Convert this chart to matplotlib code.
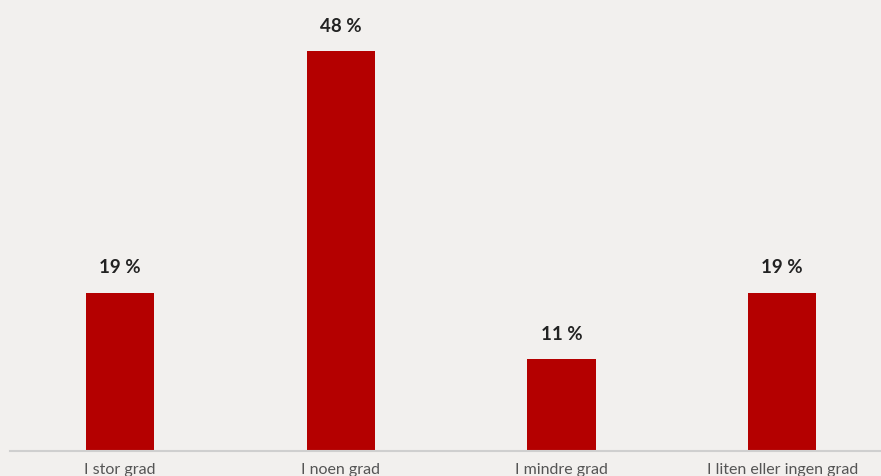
import matplotlib
matplotlib.use("Agg")
import matplotlib.pyplot as plt

categories = ["I stor grad", "I noen grad", "I mindre grad", "I liten eller ingen grad"]
values = [19, 48, 11, 19]
labels = ["19 %", "48 %", "11 %", "19 %"]

bg = "#f2f0ee"
fig = plt.figure(figsize=(8.81, 4.77), dpi=100, facecolor=bg)
ax = fig.add_axes([9.7 / 881, 25 / 477, 882.8 / 881, 420 / 477], facecolor=bg)

x = range(len(categories))
ax.bar(x, values, width=0.31, color="#b40000", zorder=2)
for xi, v, lab in zip(x, values, labels):
    ax.annotate(lab, (xi, v), xytext=(0, 26), textcoords="offset pixels",
                ha="center", va="center", fontsize=13.5, fontweight="bold",
                color="#222222", family=["Lato", "DejaVu Sans"])

ax.set_xlim(-0.5, 3.5)
ax.set_ylim(0, 50.4)
ax.set_xticks(list(x))
ax.set_xticklabels(categories, fontsize=11.5, color="#555555", family=["Lato", "DejaVu Sans"])
ax.tick_params(axis="x", length=0, pad=8)
ax.set_yticks([])
for s in ["top", "right", "left"]:
    ax.spines[s].set_visible(False)
ax.spines["bottom"].set_color("#cfcfcf")
ax.spines["bottom"].set_linewidth(1.5)

fig.savefig("out.png", dpi=100, facecolor=bg)
